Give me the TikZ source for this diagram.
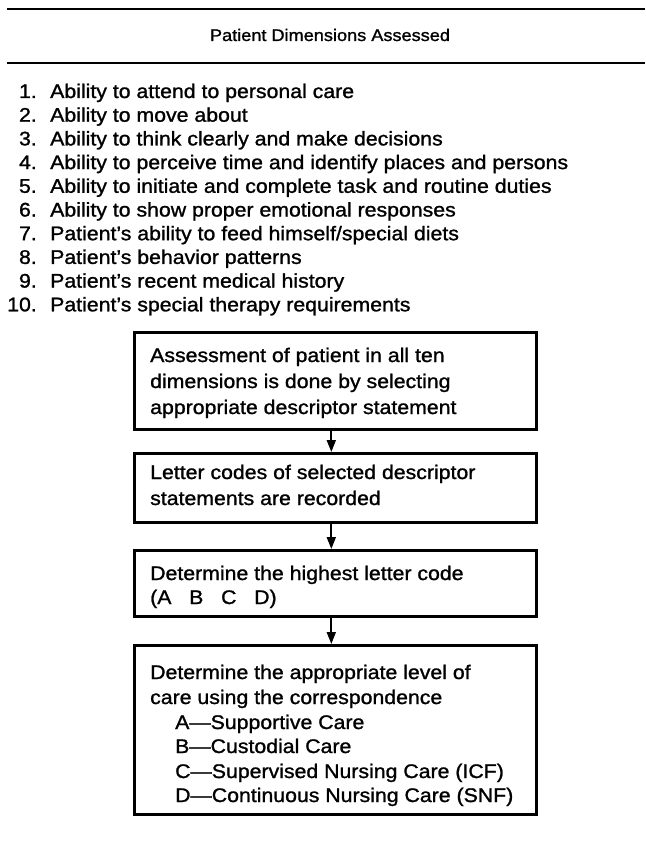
\documentclass[tikz,border=0pt]{standalone}
\usepackage{fontspec}
\setmainfont{Liberation Sans}[FakeStretch=1.08,FakeBold=1.2]
\usetikzlibrary{arrows.meta}
\begin{document}
\begin{tikzpicture}[x=1pt,y=-1pt,
  rule/.style={line width=1.8pt},
  box/.style={draw,line width=2.6pt,inner sep=0pt},
  txt/.style={anchor=base west,inner sep=0pt,font=\fontsize{19.7}{24}\selectfont},
  num/.style={anchor=base east,inner sep=0pt,font=\fontsize{19.7}{24}\selectfont},
  arr/.style={line width=1.8pt,-{Triangle[length=12pt,width=9pt]}}]
\useasboundingbox (0,0) rectangle (645,845);
% rules and title
\coordinate (r1a) at (7,9); \coordinate (r1b) at (645,9);
\coordinate (r2a) at (7,63); \coordinate (r2b) at (645,63);
\draw[rule] (r1a) -- (r1b);
\draw[rule] (r2a) -- (r2b);
\node[anchor=base,inner sep=0pt,font=\fontsize{16.8}{20}\selectfont] (title) at (330,41) {Patient Dimensions Assessed};
% list
\foreach \i/\t in {1/{Ability to attend to personal care},
  2/{Ability to move about},
  3/{Ability to think clearly and make decisions},
  4/{Ability to perceive time and identify places and persons},
  5/{Ability to initiate and complete task and routine duties},
  6/{Ability to show proper emotional responses},
  7/{Patient’s ability to feed himself/special diets},
  8/{Patient’s behavior patterns},
  9/{Patient’s recent medical history},
  10/{Patient’s special therapy requirements}}{
  \node[num] (n\i) at (37,{98+23.7*(\i-1)}) {\i.};
  \node[txt] (t\i) at (50,{98+23.7*(\i-1)}) {\t};
}
% boxes
\node[box,anchor=north west,minimum width=402pt,minimum height=97pt] (b1) at (133,331) {};
\node[box,anchor=north west,minimum width=402pt,minimum height=69pt] (b2) at (133,452) {};
\node[box,anchor=north west,minimum width=402pt,minimum height=66pt] (b3) at (133,549) {};
\node[box,anchor=north west,minimum width=402pt,minimum height=169pt] (b4) at (133,644) {};
% box texts
\node[txt] (a1) at (150,362) {Assessment of patient in all ten};
\node[txt] (a2) at (150,388) {dimensions is done by selecting};
\node[txt] (a3) at (150,414) {appropriate descriptor statement};
\node[txt] (c1) at (150,479) {Letter codes of selected descriptor};
\node[txt] (c2) at (150,505) {statements are recorded};
\node[txt] (d1) at (150,580) {Determine the highest letter code};
\node[txt] (d2) at (150,604) {(A\hspace{0.9em}B\hspace{0.9em}C\hspace{0.9em}D)};
\node[txt] (e1) at (150,679) {Determine the appropriate level of};
\node[txt] (e2) at (150,704) {care using the correspondence};
\node[txt] (e3) at (175,729) {A—Supportive Care};
\node[txt] (e4) at (175,753) {B—Custodial Care};
\node[txt] (e5) at (175,778) {C—Supervised Nursing Care (ICF)};
\node[txt] (e6) at (175,802) {D—Continuous Nursing Care (SNF)};
% arrows
\draw[arr] ([xshift=-4pt]b1.south) -- ([xshift=-4pt]b2.north);
\draw[arr] ([xshift=-4pt]b2.south) -- ([xshift=-4pt]b3.north);
\draw[arr] ([xshift=-4pt]b3.south) -- ([xshift=-4pt]b4.north);
\end{tikzpicture}
\end{document}
